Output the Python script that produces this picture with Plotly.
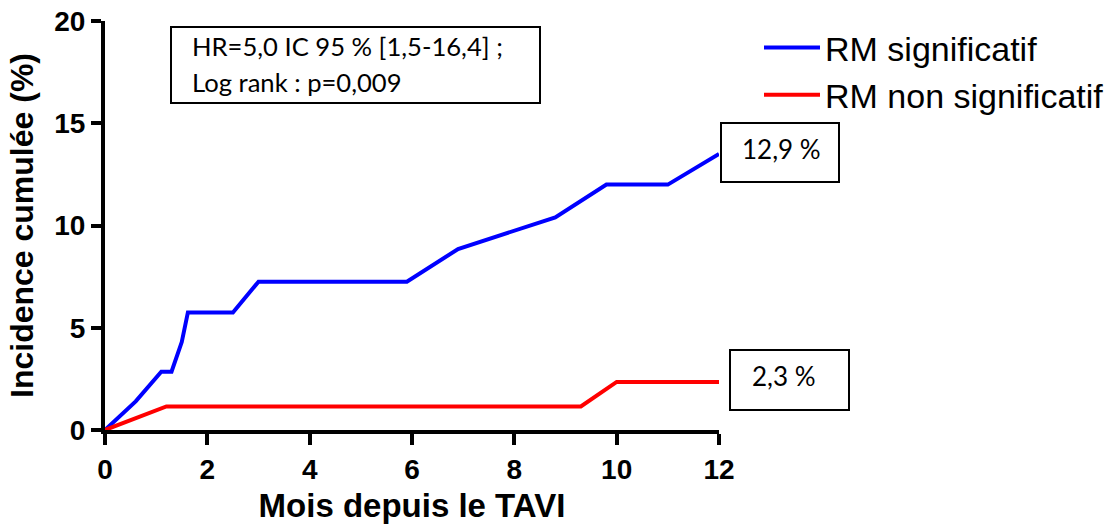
import plotly.graph_objects as go

# Data
blue_x = [0, 0.6, 1.1, 1.3, 1.5, 1.62, 2.5, 3.0, 5.9, 6.9, 8.8, 9.8, 11.0, 12.0]
blue_y = [0, 1.4, 2.85, 2.85, 4.3, 5.75, 5.75, 7.25, 7.25, 8.85, 10.4, 12.0, 12.0, 13.5]
red_x = [0, 1.2, 9.3, 10.0, 12.0]
red_y = [0, 1.15, 1.15, 2.35, 2.35]
series_names = ["RM significatif", "RM non significatif"]
x_ticks = [0, 2, 4, 6, 8, 10, 12]
y_ticks = [0, 5, 10, 15, 20]
stats_lines = ["HR=5,0 IC 95 % [1,5-16,4] ;", "Log rank : p=0,009"]
end_labels = ["12,9 %", "2,3 %"]

W, H = 1113, 524
L, R, T, B = 105, 719, 21, 430


def px(xp):
    return (xp - L) / (R - L)


def py(yp):
    return (B - yp) / (B - T)


fig = go.Figure()
fig.add_trace(go.Scatter(x=blue_x, y=blue_y, mode="lines", name=series_names[0],
                         line=dict(color="#0000FF", width=4), cliponaxis=False))
fig.add_trace(go.Scatter(x=red_x, y=red_y, mode="lines", name=series_names[1],
                         line=dict(color="#FF0000", width=4), cliponaxis=False))

axis_font = dict(family="Liberation Sans, Arial", size=28, color="black", weight="bold")
xtitle_font = dict(family="Liberation Sans, Arial", size=33, color="black", weight="bold")
ytitle_font = dict(family="Liberation Sans, Arial", size=32, color="black", weight="bold")

fig.update_layout(
    width=W, height=H,
    margin=dict(l=L, r=W - R, t=T, b=H - B, autoexpand=False),
    paper_bgcolor="white", plot_bgcolor="white",
    showlegend=True,
    legend=dict(x=px(759), y=py(19), xanchor="left", yanchor="top",
                font=dict(family="Liberation Sans, Arial", size=34, color="black"),
                bgcolor="rgba(0,0,0,0)", itemwidth=56, tracegroupgap=0),
    xaxis=dict(range=[0, 12], tickvals=x_ticks, showline=True, linewidth=4, linecolor="black",
               ticks="outside", ticklen=11, tickwidth=4, tickcolor="black", automargin=False,
               showgrid=False, zeroline=False, tickfont=axis_font,
               title=dict(text="Mois depuis le TAVI", font=xtitle_font, standoff=16)),
    yaxis=dict(range=[0, 20], tickvals=y_ticks, showline=True, linewidth=4, linecolor="black",
               ticks="outside", ticklen=10, tickwidth=4, tickcolor="black", automargin=False,
               showgrid=False, zeroline=False, tickfont=axis_font,
               title=dict(text="Incidence cumulée (%)", font=ytitle_font, standoff=12)),
)

box_line = dict(color="black", width=2)
# stats box
fig.add_shape(type="rect", xref="paper", yref="paper", x0=px(171), x1=px(540), y0=py(27), y1=py(103),
              line=box_line, fillcolor="rgba(0,0,0,0)")
ann_font = dict(family="Lato, Open Sans", size=25.6, color="black")
fig.add_annotation(xref="paper", yref="paper", x=px(190), y=py(46), text=stats_lines[0],
                   showarrow=False, xanchor="left", yanchor="middle", font=ann_font)
fig.add_annotation(xref="paper", yref="paper", x=px(190), y=py(82), text=stats_lines[1],
                   showarrow=False, xanchor="left", yanchor="middle", font=ann_font)

# end-value label boxes
lab_font = dict(family="Lato, Open Sans", size=26, color="black")
fig.add_shape(type="rect", xref="paper", yref="paper", x0=px(721), x1=px(839), y0=py(123), y1=py(182),
              line=box_line, fillcolor="white")
fig.add_annotation(xref="paper", yref="paper", x=px(781), y=py(149), text=end_labels[0],
                   showarrow=False, xanchor="center", yanchor="middle", font=lab_font)
fig.add_shape(type="rect", xref="paper", yref="paper", x0=px(730), x1=px(849), y0=py(350), y1=py(410),
              line=box_line, fillcolor="white")
fig.add_annotation(xref="paper", yref="paper", x=px(784), y=py(376), text=end_labels[1],
                   showarrow=False, xanchor="center", yanchor="middle", font=lab_font)

fig.write_html("out.html")
